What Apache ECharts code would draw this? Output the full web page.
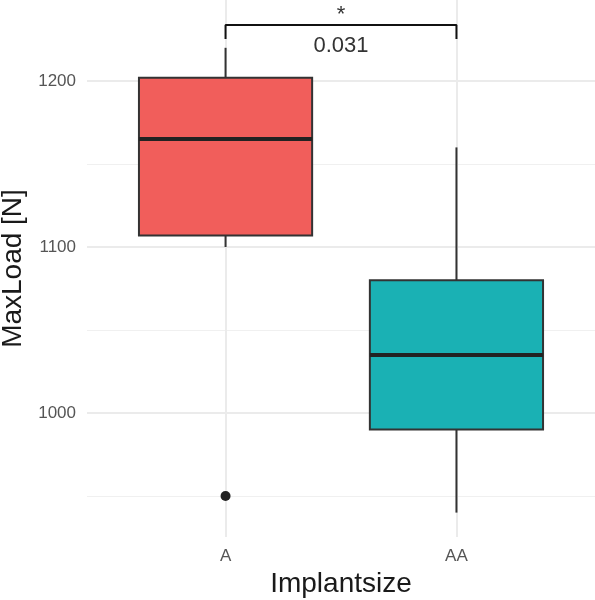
<!DOCTYPE html>
<html>
<head>
<meta charset="utf-8">
<script src="https://cdn.jsdelivr.net/npm/echarts@6/dist/echarts.min.js"></script>
<style>
  html, body { margin: 0; padding: 0; background: #fff; }
  #box_chart { width: 595px; height: 600px; }
</style>
</head>
<body>
<div id="box_chart"></div>
<script>
// values
var categories = ['A', 'AA'];
var whiskerLow = [1100, 940];
var q1 = [1107, 990];
var medians = [1165, 1035];
var q3 = [1202, 1080];
var whiskerHigh = [1220, 1160];
var outliers = [[1, 950]];          // [category position, value]
var boxColors = ['#F15E5B', '#1AB1B4'];

var yMajorTicks = [1000, 1100, 1200];
var yMinorTicks = [950, 1050, 1150];

// significance bracket between A and AA
var bracketX = [1, 2];
var bracketY = [1225.3, 1233.7];     // tick bottom, bar top
var starLabel = '*';
var starY = 1240;
var pLabel = '0.031';
var pY = 1221;

(function (bidDiv) {
    var font = 'Liberation Sans, Arial, Helvetica, sans-serif';

    var boxData = categories.map(function (c, i) {
        return [i + 1, whiskerLow[i], q1[i], medians[i], q3[i], whiskerHigh[i]];
    });

    function renderBox(params, api) {
        var x = api.value(0);
        var half = 0.375;
        var left = api.coord([x - half, api.value(2)]);
        var right = api.coord([x + half, api.value(4)]);
        var mid = api.coord([x, api.value(3)]);
        var lo = api.coord([x, api.value(1)]);
        var hi = api.coord([x, api.value(5)]);
        var stroke = { stroke: '#333', lineWidth: 2 };
        return {
            type: 'group',
            children: [
                { type: 'line', shape: { x1: lo[0], y1: lo[1], x2: lo[0], y2: left[1] }, style: stroke },
                { type: 'line', shape: { x1: hi[0], y1: hi[1], x2: hi[0], y2: right[1] }, style: stroke },
                { type: 'rect',
                  shape: { x: left[0], y: right[1], width: right[0] - left[0], height: left[1] - right[1] },
                  style: { fill: boxColors[params.dataIndex], stroke: '#333', lineWidth: 2 } },
                { type: 'line', shape: { x1: left[0], y1: mid[1], x2: right[0], y2: mid[1] },
                  style: { stroke: '#222', lineWidth: 4 } }
            ]
        };
    }

    function renderNote(params, api) {
        var p = api.coord([api.value(0), api.value(1)]);
        var notes = [starLabel, pLabel];
        return {
            type: 'text',
            style: {
                x: p[0], y: p[1], text: notes[params.dataIndex],
                align: 'center', verticalAlign: 'middle',
                font: '22px ' + font, fill: '#333'
            }
        };
    }

    var option = {
        animation: false,
        backgroundColor: '#fff',
        grid: { left: 87, right: 0, top: 0, bottom: 63, outerBoundsMode: 'none', containLabel: false },
        xAxis: {
            type: 'value',
            min: 0.4,
            max: 2.6,
            name: 'Implantsize',
            nameLocation: 'middle',
            nameGap: 28,
            nameTextStyle: { fontSize: 28, color: '#1a1a1a', fontFamily: font },
            axisLine: { show: false },
            axisTick: { show: false, customValues: [1, 2] },
            axisLabel: {
                customValues: [1, 2],
                formatter: function (v) { return categories[Math.round(v) - 1]; },
                fontSize: 17, color: '#555', fontFamily: font, margin: 11
            },
            splitLine: { show: true, lineStyle: { color: '#EBEBEB', width: 2 } }
        },
        yAxis: [
            {
                type: 'value',
                min: 925.3,
                max: 1248.8,
                name: 'MaxLoad [N]',
                nameLocation: 'middle',
                nameGap: 56,
                nameTextStyle: { fontSize: 28, color: '#1a1a1a', fontFamily: font },
                axisLine: { show: false },
                axisTick: { show: false, customValues: yMajorTicks },
                axisLabel: {
                    customValues: yMajorTicks,
                    formatter: function (v) { return String(v); },
                    fontSize: 17, color: '#555', fontFamily: font, margin: 11
                },
                splitLine: { show: true, lineStyle: { color: '#EBEBEB', width: 2 } }
            },
            {
                type: 'value',
                min: 925.3,
                max: 1248.8,
                position: 'left',
                axisLine: { show: false },
                axisTick: { show: false, customValues: yMinorTicks },
                axisLabel: { show: false },
                splitLine: { show: true, lineStyle: { color: '#F0F0F0', width: 1.2 } }
            }
        ],
        series: [
            {
                type: 'custom',
                renderItem: renderBox,
                data: boxData,
                encode: { x: 0, y: [1, 2, 3, 4, 5] },
                z: 3
            },
            {
                type: 'scatter',
                data: outliers,
                symbolSize: 10,
                itemStyle: { color: '#222', opacity: 1 },
                z: 4
            },
            {
                type: 'line',
                data: [[bracketX[0], bracketY[0]], [bracketX[0], bracketY[1]],
                       [bracketX[1], bracketY[1]], [bracketX[1], bracketY[0]]],
                symbol: 'none',
                lineStyle: { color: '#111', width: 2 },
                silent: true,
                z: 4
            },
            {
                type: 'custom',
                renderItem: renderNote,
                data: [[1.5, starY], [1.5, pY]],
                z: 5
            }
        ]
    };

    var myChart = echarts.init(document.getElementById(bidDiv));
    myChart.setOption(option);
})("box_chart");
</script>
</body>
</html>
